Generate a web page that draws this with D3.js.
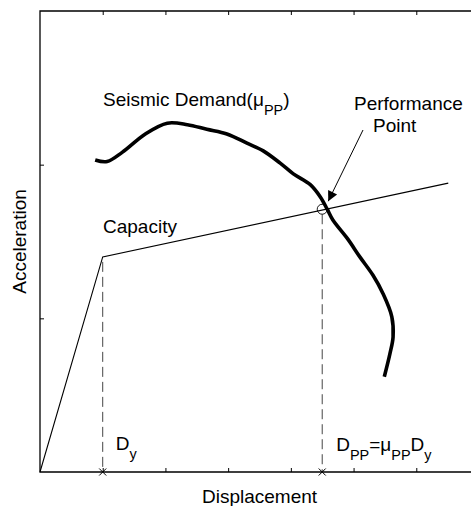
<!DOCTYPE html>
<html>
<head>
<meta charset="utf-8">
<script src="https://cdn.jsdelivr.net/npm/d3@7"></script>
<style>
  html, body { margin: 0; padding: 0; background: #fff; }
  svg { display: block; font-family: Arial, "Liberation Sans", Helvetica, sans-serif; }
</style>
</head>
<body>
<svg id="chart" width="471" height="506"></svg>
<script>
// Bilinear capacity spectrum (displacement, acceleration)
const capacityX = [0, 1, 6.51];
const capacityY = [0, 1.40, 1.88];

// Seismic demand curve for the ductility at the performance point
const demandX = [0.88, 1.07, 1.31, 1.68, 2.03, 2.35, 2.66, 2.98, 3.30, 3.56, 3.83, 4.04, 4.31, 4.47, 4.58, 4.67, 4.90, 5.10, 5.31, 5.47, 5.61, 5.63, 5.58, 5.49];
const demandY = [2.03, 2.02, 2.08, 2.20, 2.27, 2.26, 2.23, 2.20, 2.14, 2.09, 2.01, 1.94, 1.87, 1.79, 1.71, 1.64, 1.52, 1.40, 1.28, 1.16, 1.01, 0.88, 0.77, 0.62];

// Yield displacement and performance point
const yieldD = 1;
const perfPoint = [4.5, 1.71];

const xTicks = [1, 2, 3, 4, 5, 6];
const yTicks = [1, 2];

const svg = d3.select("#chart");
const plotLeft = 40, plotTop = 11, plotBottom = 472, plotRight = 479;

const x = d3.scaleLinear().domain([0, 7]).range([plotLeft, plotRight]);
const y = d3.scaleLinear().domain([0, 3]).range([plotBottom, plotTop]);

const FS = 19;

// Frame: left, top and bottom edges
svg.append("path")
  .attr("d", `M${plotRight},${plotTop}H${plotLeft}V${plotBottom}H${plotRight}`)
  .attr("fill", "none").attr("stroke", "#000").attr("stroke-width", 1.3);

// Inward ticks via d3 axes
const tickLen = 4;
const gB = svg.append("g").attr("transform", `translate(0,${plotBottom})`)
  .call(d3.axisTop(x).tickValues(xTicks).tickSize(tickLen).tickFormat(""));
const gT = svg.append("g").attr("transform", `translate(0,${plotTop})`)
  .call(d3.axisBottom(x).tickValues(xTicks).tickSize(tickLen).tickFormat(""));
const gL = svg.append("g").attr("transform", `translate(${plotLeft},0)`)
  .call(d3.axisRight(y).tickValues(yTicks).tickSize(tickLen).tickFormat(""));
[gB, gT, gL].forEach(g => {
  g.select(".domain").remove();
  g.selectAll(".tick line").attr("stroke", "#000").attr("stroke-width", 1);
});

// Dashed guides down to the axis
const guides = [
  { d: yieldD, a: capacityY[1] },
  { d: perfPoint[0], a: perfPoint[1] }
];
svg.selectAll(".guide").data(guides).join("line")
  .attr("class", "guide")
  .attr("x1", d => x(d.d)).attr("x2", d => x(d.d))
  .attr("y1", d => y(d.a) + 5).attr("y2", plotBottom)
  .attr("stroke", "#444").attr("stroke-width", 1)
  .attr("stroke-dasharray", "10,5");

// Cross markers on the displacement axis
const m = 3.5;
svg.selectAll(".xmark").data(guides).join("path")
  .attr("class", "xmark")
  .attr("d", d => {
    const cx = x(d.d), cy = plotBottom;
    return `M${cx - m},${cy - m}L${cx + m},${cy + m}M${cx - m},${cy + m}L${cx + m},${cy - m}`;
  })
  .attr("stroke", "#000").attr("stroke-width", 1);

// Capacity curve
const capLine = d3.line().x(d => x(d[0])).y(d => y(d[1]));
svg.append("path")
  .datum(d3.zip(capacityX, capacityY))
  .attr("d", capLine)
  .attr("fill", "none").attr("stroke", "#000").attr("stroke-width", 1.1);

// Demand curve
const demLine = d3.line().x(d => x(d[0])).y(d => y(d[1])).curve(d3.curveCatmullRom.alpha(0.5));
svg.append("path")
  .datum(d3.zip(demandX, demandY))
  .attr("d", demLine)
  .attr("fill", "none").attr("stroke", "#000").attr("stroke-width", 3.6)
  .attr("stroke-linejoin", "round");

// Performance point marker
svg.append("circle")
  .attr("cx", x(perfPoint[0])).attr("cy", y(perfPoint[1])).attr("r", 5)
  .attr("fill", "none").attr("stroke", "#000").attr("stroke-width", 0.9);

// Arrow pointing at the performance point
svg.append("defs").append("marker")
  .attr("id", "arrow").attr("viewBox", "0 0 10 10")
  .attr("refX", 10).attr("refY", 5)
  .attr("markerWidth", 13).attr("markerHeight", 10)
  .attr("markerUnits", "userSpaceOnUse")
  .attr("orient", "auto")
  .append("path").attr("d", "M0,0L10,5L0,10Z").attr("fill", "#000");

svg.append("line")
  .attr("x1", 363).attr("y1", 130)
  .attr("x2", x(perfPoint[0]) + 6).attr("y2", y(perfPoint[1]) - 8)
  .attr("stroke", "#000").attr("stroke-width", 1)
  .attr("marker-end", "url(#arrow)");

// Text with sub-scripted parts
function subText(xPos, yPos, parts, anchor) {
  const t = svg.append("text")
    .attr("x", xPos).attr("y", yPos)
    .attr("font-size", FS).attr("fill", "#000")
    .attr("text-anchor", anchor || "start");
  parts.forEach(p => {
    const s = t.append("tspan").text(p.t);
    if (p.sub) s.attr("font-size", FS * 0.76).attr("dy", 9);
    if (p.up) s.attr("dy", -9);
  });
  return t;
}

subText(103, 106, [{ t: "Seismic Demand(μ" }, { t: "PP", sub: true }, { t: ")", up: true }]);
subText(103, 233, [{ t: "Capacity" }]);

const pp = svg.append("text").attr("font-size", FS).attr("fill", "#000");
pp.append("tspan").attr("x", 354).attr("y", 110).text("Performance");
pp.append("tspan").attr("x", 373).attr("y", 132).text("Point");

subText(x(yieldD) + 13, 450, [{ t: "D" }, { t: "y", sub: true }]);
subText(x(perfPoint[0]) + 14, 451, [
  { t: "D" }, { t: "PP", sub: true }, { t: "=μ", up: true },
  { t: "PP", sub: true }, { t: "D", up: true }, { t: "y", sub: true }
]);

// Axis titles
svg.append("text")
  .attr("x", (plotLeft + plotRight) / 2).attr("y", 503)
  .attr("text-anchor", "middle").attr("font-size", FS).text("Displacement");

svg.append("text")
  .attr("transform", `translate(26,${(plotTop + plotBottom) / 2}) rotate(-90)`)
  .attr("text-anchor", "middle").attr("font-size", FS).text("Acceleration");
</script>
</body>
</html>
